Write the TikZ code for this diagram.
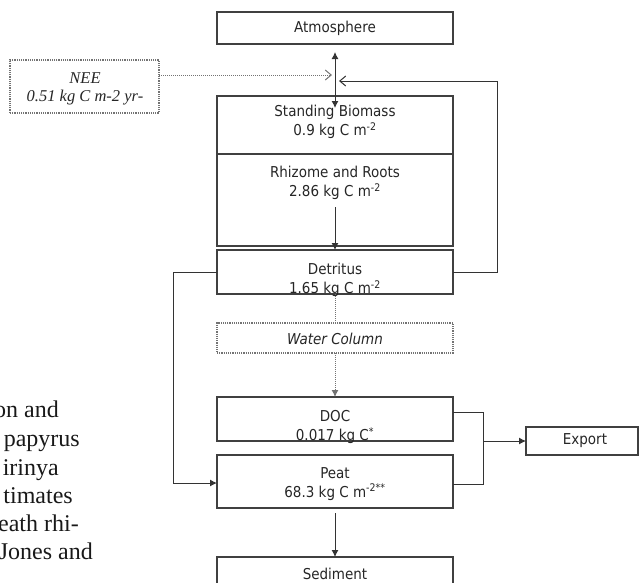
\documentclass[tikz,border=0pt]{standalone}
\usepackage{fontspec}
\setmainfont{DejaVu Sans Condensed}
\newfontfamily\paperfont{Liberation Serif}
\usetikzlibrary{arrows.meta}
\begin{document}
\begin{tikzpicture}[x=1pt,y=-1pt,
  box/.style={draw=black!75, line width=1.2pt, rectangle, minimum width=236pt, inner sep=0pt, outer sep=0pt},
  dotbox/.style={box, draw=black!55, densely dotted},
  txt/.style={font=\fontsize{15}{18.5}\selectfont, align=center, inner sep=0pt, text=black!85},
  neetxt/.style={font=\paperfont\itshape\fontsize{16.5}{18}\selectfont, align=center, inner sep=0pt, text=black!85},
  papertxt/.style={font=\paperfont\fontsize{24}{28}\selectfont, inner sep=0pt, anchor=base east, text=black!90},
  conn/.style={draw=black!80, line width=1pt},
  dconn/.style={draw=black!55, line width=1pt, densely dotted},
  fa/.style={-{Latex[length=7pt,width=7pt]}},
  oa/.style={-{Straight Barb[length=6pt,width=10pt]}},
]
\useasboundingbox (0,0) rectangle (640,582);
\clip (0,0) rectangle (640,582);

% boxes
\node[box, minimum height=32pt] (atm) at (335,28) {};
\node[box, minimum height=58pt] (sb) at (335,125) {};
\node[box, minimum height=92pt] (rr) at (335,200) {};
\node[box, minimum height=44pt] (det) at (335,272) {};
\node[dotbox, minimum height=30pt] (wc) at (335,338) {};
\node[box, minimum height=44pt] (doc) at (335,419) {};
\node[box, minimum height=53pt] (peat) at (335,481.5) {};
\node[box, minimum height=46pt] (sed) at (335,580) {};
\node[box, minimum width=112pt, minimum height=28pt] (exp) at (582,441) {};
\node[dotbox, minimum width=149pt, minimum height=53pt] (nee) at (84.5,86.5) {};

% texts
\node[txt] (tatm) at (335,28) {Atmosphere};
\node[txt] (tsb) at (335,122) {Standing Biomass\\0.9 kg C m\textsuperscript{-2}};
\node[txt] (trr) at (335,183) {Rhizome and Roots\\2.86 kg C m\textsuperscript{-2}};
\node[txt] (tdet) at (335,280) {Detritus\\1.65 kg C m\textsuperscript{-2}};
\node[txt, font=\itshape\fontsize{15}{18}\selectfont] (twc) at (335,339) {Water Column};
\node[txt] (tdoc) at (335,427) {DOC\\0.017 kg C\textsuperscript{*}};
\node[txt] (tpeat) at (335,484) {Peat\\68.3 kg C m\textsuperscript{-2**}};
\node[txt] (tsed) at (335,573.5) {Sediment};
\node[txt] (texp) at (585,441) {Export};
\node[neetxt] (tnee) at (85,88.5) {NEE\\0.51 kg C m-2 yr-};

% cropped page text on the left
\node[papertxt] (p1) at (59,417) {on and};
\node[papertxt] (p2) at (80,446) {papyrus};
\node[papertxt] (p3) at (59,475) {irinya};
\node[papertxt] (p4) at (73,503) {timates};
\node[papertxt] (p5) at (79,531) {eath rhi-};
\node[papertxt] (p6) at (93,559) {Jones and};

% helper coordinates
\coordinate (up) at (335,52);
\coordinate (down) at (335,108);
\coordinate (neetip) at (332,75);
\coordinate (rettip) at (339,81);
\coordinate (rrstart) at (335,207);
\coordinate (peatbot) at (335,513);
\coordinate (junc) at (483,441);

% connectors
\draw[conn, {Latex[length=7pt,width=7pt]}-{Latex[length=7pt,width=7pt]}] (up) -- (down);
\draw[dconn, oa] (nee.east |- neetip) -- (neetip);
\draw[conn, oa] (det.east) -- (497,272) -- (497,81) -- (rettip);
\draw[conn, fa] (rrstart) -- (det.north);
\draw[conn, fa] (det.west) -- (173,272) -- (173,483) -- (peat.west |- 0,483);
\draw[dconn] (det.south) -- (wc.north);
\draw[dconn, fa] (wc.south) -- (doc.north);
\draw[conn] (doc.east |- 0,412) -- (483,412) -- (483,484) -- (peat.east |- 0,484);
\draw[conn, fa] (junc) -- (exp.west);
\draw[conn, fa] (peatbot) -- (sed.north);
\end{tikzpicture}
\end{document}
